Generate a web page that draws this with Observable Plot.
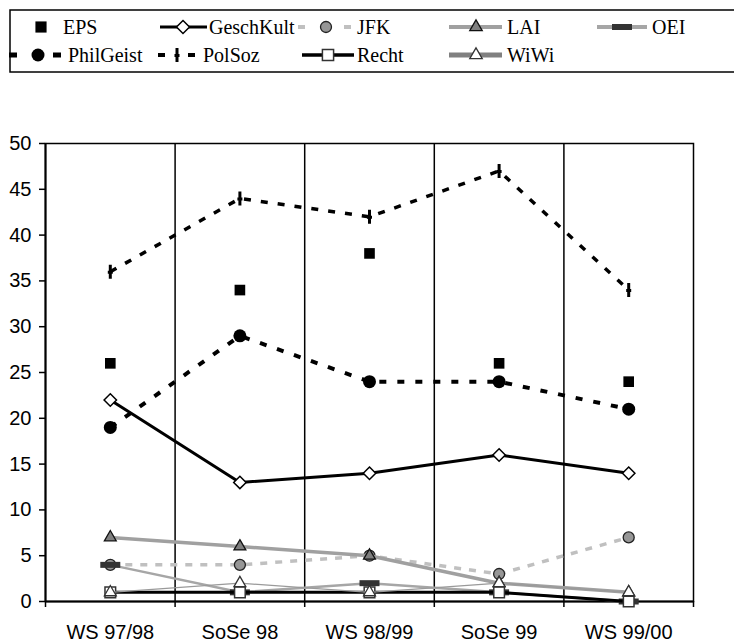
<!DOCTYPE html>
<html><head><meta charset="utf-8">
<script src="https://cdn.jsdelivr.net/npm/d3@7"></script>
<script src="https://cdn.jsdelivr.net/npm/@observablehq/plot@0.6"></script>
<style>
html,body{margin:0;padding:0;background:#fff;}
#wrap{width:734px;height:642px;overflow:hidden;position:relative;background:#fff;}
#legend,#chart{display:block;line-height:0;}
</style></head><body><div id="wrap"><div id="legend"></div><div id="chart"></div></div>
<script>
// ---- data ----
const categories = ["WS 97/98", "SoSe 98", "WS 98/99", "SoSe 99", "WS 99/00"];
const EPS       = [26, 34, 38, 26, 24];
const GeschKult = [22, 13, 14, 16, 14];
const JFK       = [4, 4, 5, 3, 7];
const LAI       = [7, 6, 5, 2, 1];
const OEI       = [4, 1, 2, 1, 0];
const PhilGeist = [19, 29, 24, 24, 21];
const PolSoz    = [36, 44, 42, 47, 34];
const Recht     = [1, 1, 1, 1, 0];
const WiWi      = [1, 2, 1, 2, 1];
const seriesNames = ["EPS", "GeschKult", "JFK", "LAI", "OEI", "PhilGeist", "PolSoz", "Recht", "WiWi"];
const seriesValues = [EPS, GeschKult, JFK, LAI, OEI, PhilGeist, PolSoz, Recht, WiWi];
const yTicks = [0, 5, 10, 15, 20, 25, 30, 35, 40, 45, 50];

const rows = seriesNames.flatMap((name, s) =>
  seriesValues[s].map((v, i) => ({series: name, cat: categories[i], xi: i + 0.5, v})));

// ---- custom symbols ----
const hBar = {draw(c) { c.moveTo(-10, -3); c.lineTo(10, -3); c.lineTo(10, 3); c.lineTo(-10, 3); c.closePath(); }};
const vBar = {draw(c) { c.moveTo(-1.5, -7); c.lineTo(1.5, -7); c.lineTo(1.5, 7); c.lineTo(-1.5, 7); c.closePath();
                        c.moveTo(-2.5, -1); c.lineTo(2.5, -1); c.lineTo(2.5, 2); c.lineTo(-2.5, 2); c.closePath(); }};
const d3sym = {square: d3.symbolSquare, diamond2: d3.symbolDiamond2, circle: d3.symbolCircle, triangle: d3.symbolTriangle};

const style = {
  EPS:       {line: null, symbol: "square", r: 6.0, fill: "#000", stroke: "none", sw: 0},
  GeschKult: {line: {stroke: "#000", strokeWidth: 3}, symbol: "diamond2", r: 5.6, fill: "#fff", stroke: "#000", sw: 1.5},
  JFK:       {line: {stroke: "#c0c0c0", strokeWidth: 3.5, strokeDasharray: "7,8"}, symbol: "circle", r: 5.5, fill: "#969696", stroke: "#222", sw: 1.3},
  LAI:       {line: {stroke: "#a0a0a0", strokeWidth: 3.5}, symbol: "triangle", r: 4.4, fill: "#7f7f7f", stroke: "#111", sw: 1.3},
  OEI:       {line: {stroke: "#a6a6a6", strokeWidth: 2.5}, symbol: hBar, r: 4.5, fill: "#333", stroke: "none", sw: 0},
  PhilGeist: {line: {stroke: "#000", strokeWidth: 4, strokeDasharray: "7,11"}, symbol: "circle", r: 6.5, fill: "#000", stroke: "none", sw: 0},
  PolSoz:    {line: {stroke: "#000", strokeWidth: 3.5, strokeDasharray: "7,10"}, symbol: vBar, r: 4.5, fill: "#000", stroke: "none", sw: 0},
  Recht:     {line: {stroke: "#000", strokeWidth: 3}, symbol: "square", r: 6.0, fill: "#fff", stroke: "#333", sw: 1.5},
  WiWi:      {line: {stroke: "#9a9a9a", strokeWidth: 1.2}, symbol: "triangle", r: 4.4, fill: "#fff", stroke: "#333", sw: 1.3}
};

// ---- chart ----
const marks = [
  Plot.ruleX(d3.range(1, categories.length), {stroke: "#000", strokeWidth: 1.5}),
  Plot.frame({stroke: "#000", strokeWidth: 1.5}),
  Plot.ruleX([0], {stroke: "#000", strokeWidth: 2}),
  Plot.ruleY([0], {stroke: "#000", strokeWidth: 2}),
  Plot.axisY({ticks: yTicks, tickSize: 6, tickPadding: 8, fontSize: 20, strokeWidth: 1.5, label: null, tickFormat: d => String(d)}),
  Plot.axisX({ticks: d3.range(0, categories.length + 1), tickSize: 6, strokeWidth: 1.5, tickFormat: () => "", label: null}),
  Plot.axisX({ticks: categories.map((c, i) => i + 0.5), tickSize: 0, tickPadding: 23, fontSize: 20, label: null,
              tickFormat: d => categories[Math.round(d - 0.5)]})
];
for (const name of seriesNames) {
  const data = rows.filter(d => d.series === name);
  const st = style[name];
  if (st.line) marks.push(Plot.line(data, {x: "xi", y: "v", ...st.line, strokeLinejoin: "round", strokeLinecap: "butt"}));
  marks.push(Plot.dot(data, {x: "xi", y: "v", symbol: st.symbol, r: st.r, fill: st.fill, stroke: st.stroke, strokeWidth: st.sw}));
}

const chart = Plot.plot({
  width: 734, height: 562,
  marginTop: 63, marginBottom: 41, marginLeft: 45, marginRight: 41,
  x: {type: "linear", domain: [0, categories.length], axis: null, label: null},
  y: {domain: [0, 50], axis: null, label: null},
  style: {fontFamily: "'Liberation Sans', Arial, sans-serif", color: "#000", background: "#fff", overflow: "visible"},
  marks
});
document.getElementById("chart").appendChild(chart);

// ---- legend ----
const legendLayout = {
  EPS:       {row: 0, x1: null, x2: null, mx: 41,  tx: 63,  dash: null},
  GeschKult: {row: 0, x1: 160, x2: 207, mx: 183, tx: 209, dash: null},
  JFK:       {row: 0, x1: 298, x2: 351, mx: 326, tx: 357, dash: "7,39"},
  LAI:       {row: 0, x1: 449, x2: 502, mx: 476, tx: 507, dash: null},
  OEI:       {row: 0, x1: 597, x2: 647, mx: 622, tx: 652, dash: null},
  PhilGeist: {row: 1, x1: 9,   x2: 61,  mx: 38,  tx: 68,  dash: "8,36"},
  PolSoz:    {row: 1, x1: 158, x2: 195, mx: 177, tx: 203, dash: "7,23"},
  Recht:     {row: 1, x1: 302, x2: 354, mx: 328, tx: 357, dash: null},
  WiWi:      {row: 1, x1: 449, x2: 502, mx: 476, tx: 507, dash: null}
};
const legendStroke = {
  GeschKult: {c: "#000", w: 3}, JFK: {c: "#c0c0c0", w: 4}, LAI: {c: "#a0a0a0", w: 4}, OEI: {c: "#a6a6a6", w: 4},
  PhilGeist: {c: "#000", w: 5}, PolSoz: {c: "#000", w: 4}, Recht: {c: "#000", w: 3.5}, WiWi: {c: "#808080", w: 5}
};
const rowY = [27, 55];
const lg = d3.select("#legend").append("svg").attr("width", 734).attr("height", 80).style("display", "block");
lg.append("rect").attr("x", 10).attr("y", 10).attr("width", 760).attr("height", 62)
  .attr("fill", "none").attr("stroke", "#000").attr("stroke-width", 1.5);
for (const name of seriesNames) {
  const L = legendLayout[name], st = style[name], y = rowY[L.row];
  if (L.x1 != null) {
    const ls = legendStroke[name];
    lg.append("line").attr("x1", L.x1).attr("x2", L.x2).attr("y1", y).attr("y2", y)
      .attr("stroke", ls.c).attr("stroke-width", ls.w).attr("stroke-dasharray", L.dash);
  }
  const type = typeof st.symbol === "string" ? d3sym[st.symbol] : st.symbol;
  const r = st.symbol === "circle" ? st.r : st.r * 1.05;
  lg.append("path").attr("transform", `translate(${L.mx},${y})`)
    .attr("d", d3.symbol().type(type).size(Math.PI * r * r)())
    .attr("fill", st.fill).attr("stroke", st.stroke).attr("stroke-width", st.sw);
  lg.append("text").attr("x", L.tx).attr("y", y + 7).text(name)
    .attr("font-family", "'Liberation Serif', 'Times New Roman', serif").attr("font-size", 20).attr("fill", "#000");
}
</script></body></html>
